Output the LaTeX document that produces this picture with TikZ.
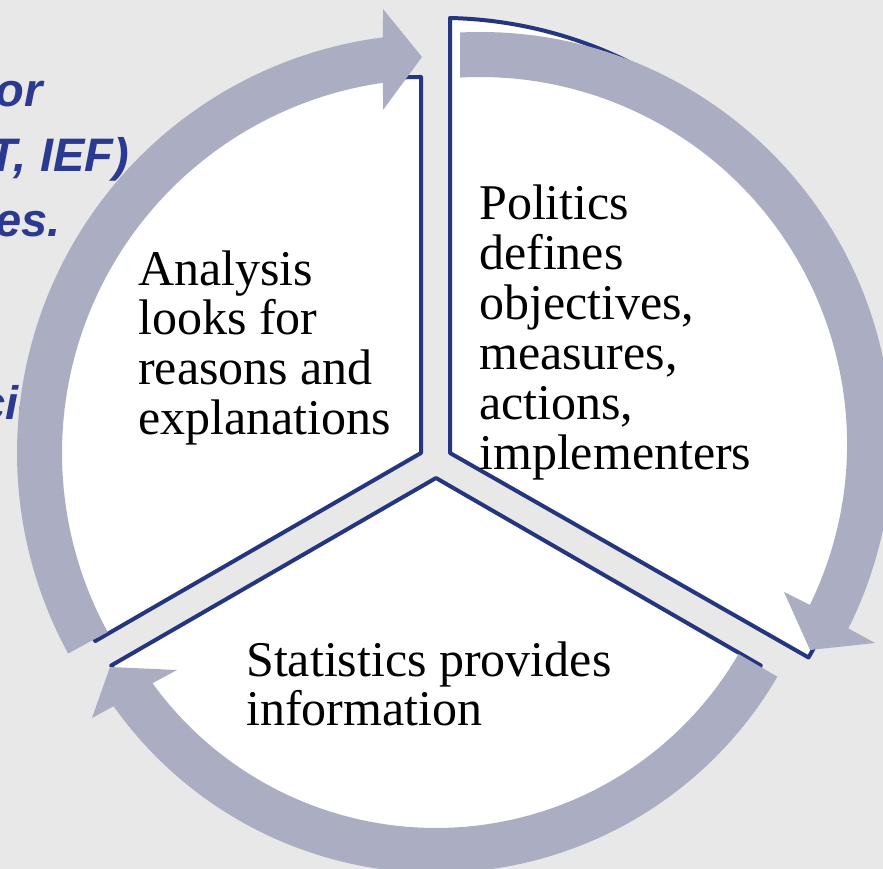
\documentclass[tikz,border=0pt]{standalone}
\usepackage{fontspec}
\setmainfont{Liberation Serif}
\newfontfamily\bluesans{Liberation Sans}
\usetikzlibrary{calc}
\definecolor{bgcol}{HTML}{E8E8E8}
\definecolor{ringcol}{HTML}{ABAEC2}
\definecolor{edgecol}{HTML}{26357F}
\definecolor{bluetxt}{HTML}{2B3990}
\begin{document}
\begin{tikzpicture}[x=1pt,y=1pt,
  sector/.style={fill=white, draw=edgecol, line width=4pt, line join=round},
  ringarrow/.style={fill=ringcol, draw=none},
  lbl/.style={font=\fontsize{50}{50}\selectfont, anchor=base west, inner sep=0pt, text=black},
  sidetext/.style={font=\bluesans\bfseries\itshape\fontsize{47}{47}\selectfont, text=bluetxt, anchor=base east, inner sep=0pt}]
\useasboundingbox (0,0) rectangle (883,869);
\fill[bgcol] (0,0) rectangle (883,869);
\clip (0,0) rectangle (883,869);

% centres
\coordinate (c1) at (436,416);
\coordinate (c2) at (480,425);
\coordinate (c3) at (436,391);
\coordinate (apexL) at (421,416);
\coordinate (apexP) at (450,416);
\coordinate (apexB) at (436,391);

% background text line hidden by the ring
\node[sidetext, anchor=base west] (s4) at (-21,449) {cic};

% sectors
\draw[sector] (apexL) -- (421,792) arc[start angle=90,end angle=210,radius=376] -- cycle;
\draw[sector] (apexP) -- (450,851) arc[start angle=88.65,end angle=-30.1,radius=426] -- cycle;
\draw[sector] (apexB) -- ++(210:375) arc[start angle=210,end angle=330,radius=375] -- cycle;

% ring arrows
\fill[ringarrow] ([shift={(208.6:419)}]c1) arc[start angle=208.6,end angle=97.27,radius=419]
  -- (383,860) -- (422,812) -- (383,759)
  -- ([shift={(98.15:374)}]c1) arc[start angle=98.15,end angle=208.6,radius=374] -- cycle;
\fill[ringarrow] ([shift={(92.78:412)}]c2) arc[start angle=92.78,end angle=-26.6,radius=412]
  -- (875,226) -- (810,219) -- (784,277)
  -- ([shift={(-26:367)}]c2) arc[start angle=-26,end angle=93.12,radius=367] -- cycle;
\fill[ringarrow] ([shift={(-30.2:395)}]c3) arc[start angle=-30.2,end angle=-144.7,radius=395]
  -- (92,151) -- (110,202) -- (177,199)
  -- ([shift={(-144.1:350)}]c3) arc[start angle=-144.1,end angle=-30.2,radius=350] -- cycle;

% side text (partly visible)
\node[sidetext] (s1) at (43,762) {or};
\node[sidetext] (s2) at (129,697) {T, IEF)};
\node[sidetext] (s3) at (61,632) {es.};

% labels
\node[lbl] (a1) at (138,583) {Analysis};
\node[lbl] (a2) at (138,534) {looks for};
\node[lbl] (a3) at (138,484) {reasons and};
\node[lbl] (a4) at (138,434) {explanations};

\node[lbl] (p1) at (479,649) {Politics};
\node[lbl] (p2) at (479,599) {defines};
\node[lbl] (p3) at (479,549) {objectives,};
\node[lbl] (p4) at (479,499) {measures,};
\node[lbl] (p5) at (479,449) {actions,};
\node[lbl] (p6) at (479,399) {implementers};

\node[lbl] (t1) at (246,192) {Statistics provides};
\node[lbl] (t2) at (246,143) {information};
\end{tikzpicture}
\end{document}
